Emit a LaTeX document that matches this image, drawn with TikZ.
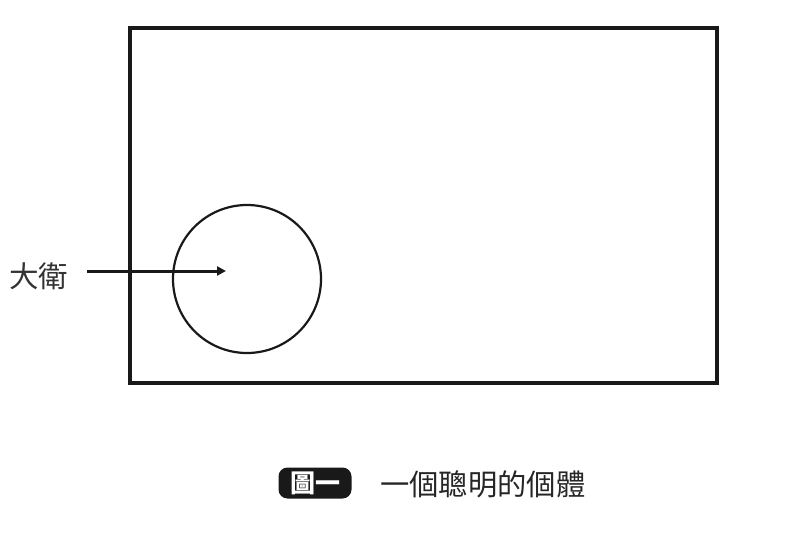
\documentclass[tikz,border=0pt]{standalone}
\usepackage{fontspec}
\newfontfamily\cjk{Noto Sans CJK TC}
\usetikzlibrary{arrows.meta}
\tikzset{
  frame/.style={draw=black!90, line width=4pt},
  person/.style={circle, draw=black!90, line width=2.2pt, minimum size=148pt, inner sep=0pt},
  pointer/.style={draw=black!90, line width=3pt, -{Triangle[length=9pt,width=9pt]}},
  lbl/.style={font=\cjk\fontsize{29.5}{32}\selectfont, text=black!80, inner sep=0pt},
  tag/.style={fill=black!90, rounded corners=9pt, minimum width=73pt, minimum height=31pt, inner sep=0pt, text=white, font=\cjk\bfseries\fontsize{25}{28}\selectfont},
  captxt/.style={font=\cjk\fontsize{29.3}{32}\selectfont, text=black!85, inner sep=0pt, anchor=west}
}
\begin{document}
\begin{tikzpicture}[x=1pt,y=-1pt]
\useasboundingbox (0,0) rectangle (800,533);
\node[frame, minimum width=587pt, minimum height=355pt, inner sep=0pt] (box) at (423.5,205.5) {};
\node[person] (david) at (247,279) {};
\coordinate (tip) at (226,271);
\node[lbl, anchor=west] (name) at (9,276) {大衛};
\coordinate (start) at (87,271);
\draw[pointer] (start) -- (tip);
\node[tag] (fig) at (315,483) {圖一};
\node[captxt] (title) at (380,484) {一個聰明的個體};
\end{tikzpicture}
\end{document}
